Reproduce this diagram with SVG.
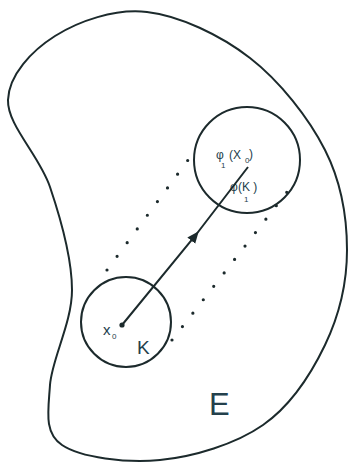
<svg xmlns="http://www.w3.org/2000/svg" width="348" height="464" viewBox="0 0 348 464">
<style>
.ln{fill:none;stroke:#1c2a2c;stroke-width:2}
.dot{fill:none;stroke:#1c2a2c;stroke-width:3.2;stroke-linecap:round;stroke-dasharray:0 17}
.t{font-family:"Liberation Sans",Arial,sans-serif;fill:#24404c}
.s{font-size:12px}
.sub{font-size:8px}
</style>
<defs>
<marker id="ah" markerWidth="14" markerHeight="12" refX="6" refY="5.5" orient="auto" markerUnits="userSpaceOnUse">
<path d="M0,0.5 L12,5.5 L0,10.5 Z" fill="#1c2a2c"/>
</marker>
</defs>
<rect width="348" height="464" fill="#fff"/>
<g id="E">
<path class="ln" d="M147,12 C179.5,15.7 220.3,35 250,58 C279.7,81 308.8,118 325,150 C341.2,182 347,217.5 347,250 C347,282.5 339,315.8 325,345 C311,374.2 290.5,405.8 263,425 C235.5,444.2 193.5,456.7 160,460 C126.5,463.3 80.3,457.5 62,445 C43.7,432.5 48.3,410.8 50,385 C51.7,359.2 72,323 72,290 C72,257 60.7,218.7 50,187 C39.3,155.3 7.2,125.2 8,100 C8.8,74.8 31.8,50.7 55,36 C78.2,21.3 114.5,8.3 147,12 Z"/>
<text class="t" x="209" y="415" font-size="31">E</text>
</g>
<g id="K">
<circle class="ln" cx="126" cy="322" r="45"/>
<circle cx="122" cy="325" r="2.6" fill="#1c2a2c"/>
<text class="t" x="103" y="335" font-size="15">x</text>
<text class="t sub" x="112" y="339">0</text>
<text class="t" x="137" y="354" font-size="19">K</text>
</g>
<g id="phiK">
<circle class="ln" cx="247" cy="160" r="53"/>
<text class="t s" x="216" y="159">φ</text>
<text class="t sub" x="221" y="168">1</text>
<text class="t s" x="229" y="159">(X</text>
<text class="t sub" x="245" y="163">0</text>
<text class="t s" x="249" y="158">)</text>
<text class="t s" x="230" y="191">φ</text>
<text class="t s" x="238" y="191">(K )</text>
<text class="t sub" x="244" y="202">1</text>
</g>
<g id="connectors">
<path class="ln" d="M122,325 L195,236 L248,167" stroke-width="1.6" marker-mid="url(#ah)"/>
<path class="dot" d="M107,270 L191,156"/>
<path class="dot" d="M172,340 L287,192"/>
</g>
</svg>
